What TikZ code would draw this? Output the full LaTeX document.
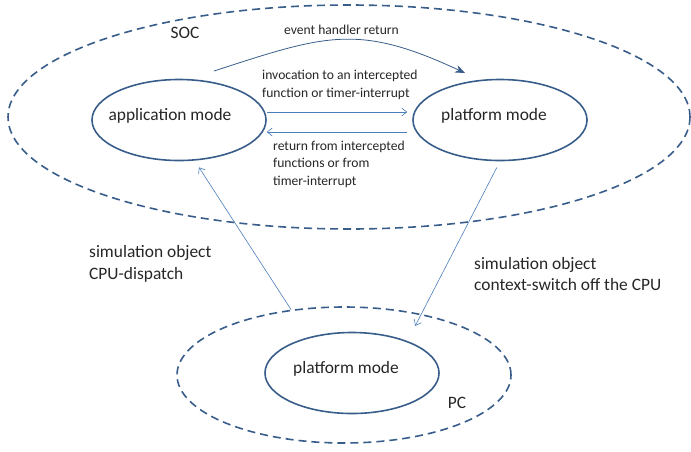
\documentclass[tikz,border=0pt]{standalone}
\usepackage{fontspec}
\setmainfont{Carlito}
\usetikzlibrary{shapes.geometric,arrows.meta}
\definecolor{rimblue}{RGB}{56,93,138}
\definecolor{lineblue}{RGB}{74,126,187}
\definecolor{textgray}{RGB}{38,38,38}

\begin{document}
\begin{tikzpicture}[x=1pt,y=1pt]
    \tikzstyle{every node}=[font=\fontsize{13.6}{17.5}\selectfont, text=textgray, inner sep=0pt]
    \tikzstyle{big}=[font=\fontsize{17.4}{21.5}\selectfont, align=left]
    \tikzstyle{mode}=[ellipse, draw=rimblue, line width=1.6pt, minimum width=174pt, minimum height=81pt, inner xsep=-16pt, big, align=center]
    \tikzstyle{realm}=[ellipse, draw=rimblue, line width=1.6pt, dash pattern=on 8pt off 5pt]
    \tikzstyle{flow}=[lineblue, line width=0.6pt, -{Straight Barb[length=5pt,width=8pt]}]
    \useasboundingbox (0,0) rectangle (691,-451);
    % draw the realms
    \node[realm, minimum width=682pt, minimum height=224pt] (soc) at (349,-117) {};
    \node[realm, minimum width=334pt, minimum height=136pt] (pc) at (344,-375) {};
    % draw the modes
    \node[mode] (app) at (179,-120) {application mode\hspace{18pt}\rule[-12pt]{0pt}{12pt}};
    \node[mode] (plat) at (500,-120) {platform mode\hspace{12pt}\rule[-12pt]{0pt}{12pt}};
    \node[mode] (pcplat) at (352,-373) {platform mode\hspace{12pt}\rule[-12pt]{0pt}{12pt}};
    % draw labels
    \node[big] (soclabel) at (185,-33) {SOC};
    \node[big] (pclabel) at (457,-403) {PC};
    \node (evlabel) at (341.5,-30) {event handler return};
    \node[anchor=west, align=left] (invlabel) at (262,-85) {invocation to an intercepted\\function or timer-interrupt};
    \node[anchor=west, align=left] (retlabel) at (273,-164) {return from intercepted\\functions or from\\timer-interrupt};
    \node[big, anchor=west] (dispatch) at (89,-264) {simulation object\\CPU-dispatch};
    \node[big, anchor=west] (switch) at (474,-274) {simulation object\\context-switch off the CPU};
    % draw the transitions
    \draw[rimblue, line width=0.8pt, -{Stealth[length=10pt,width=8pt]}] ([xshift=35pt,yshift=49pt]app.center) to[out=18, in=155, looseness=1.2] ([xshift=-35pt,yshift=47pt]plat.center);
    \draw[flow, shorten >=5pt] ([yshift=8pt]app.east) -- ([yshift=8pt]plat.west);
    \draw[flow, shorten <=5pt] ([yshift=-12pt]plat.west) -- ([yshift=-12pt]app.east);
    \draw[flow, shorten >=8pt] (pc.129) -- (app.291);
    \draw[flow, shorten <=7pt, shorten >=17pt] (plat.south) -- (pcplat.30);
\end{tikzpicture}
\end{document}
